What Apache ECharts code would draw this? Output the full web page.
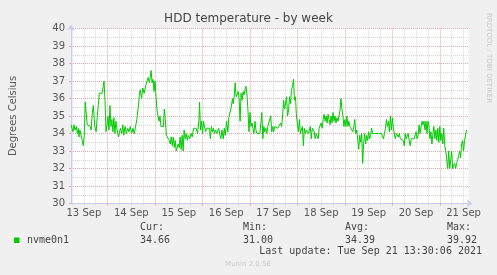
<!DOCTYPE html>
<html><head><meta charset="utf-8">
<script src="https://cdn.jsdelivr.net/npm/echarts@6/dist/echarts.min.js"></script>
<style>html,body{margin:0;padding:0;background:#f0f0f0}#c{width:497px;height:275px}</style>
</head><body><div id="c"></div>
<script>
const chartTitle = 'HDD temperature - by week';
const yName = 'Degrees Celsius';
const seriesName = 'nvme0n1';
const dayLabels = ['13 Sep','14 Sep','15 Sep','16 Sep','17 Sep','18 Sep','19 Sep','20 Sep','21 Sep'];
const yTicks = [30,31,32,33,34,35,36,37,38,39,40];
const statNames = ['Cur:','Min:','Avg:','Max:'];
const statValues = ['34.66','31.00','34.39','39.92'];
const lastUpdate = 'Last update: Tue Sep 21 13:30:06 2021';
const footer = 'Munin 2.0.56';
const sideText = 'RRDTOOL / TOBI OETIKER';
// hours since 13 Sep 00:00
const hours = [5.5,6.5,7.0,7.5,8.2,8.7,9.2,9.5,10.0,10.5,11.2,11.7,12.2,12.7,13.2,13.7,14.5,15.2,15.7,16.2,16.8,17.5,18.2,18.8,19.3,19.8,20.5,21.2,21.8,22.2,22.7,23.2,23.7,24.2,24.7,25.2,25.7,26.2,26.7,27.2,27.7,28.2,28.8,29.5,30.0,30.5,31.2,31.7,32.2,32.8,33.5,34.2,34.8,35.5,36.2,36.8,37.5,38.2,38.8,39.5,40.0,40.5,41.2,41.8,42.5,43.2,43.8,44.5,45.2,
46.0,46.5,47.0,47.5,48.0,48.5,49.0,49.5,50.0,50.5,51.0,51.5,52.2,52.7,53.2,53.7,54.2,54.7,55.2,55.7,56.2,56.7,57.2,57.7,58.2,58.7,59.2,59.7,60.2,60.7,61.2,61.7,62.2,62.7,63.2,63.8,64.3,64.8,65.5,66.2,66.8,67.5,68.2,68.8,69.5,70.2,70.5,71.0,71.5,72.0,72.5,73.0,73.5,74.2,74.8,75.5,76.0,76.5,77.0,77.5,78.0,78.5,79.2,79.7,80.2,80.8,81.3,81.8,82.5,83.0,83.5,84.2,84.8,85.3,85.8,86.5,87.2,
87.5,88.0,88.5,89.0,89.5,90.0,90.5,91.0,91.5,92.0,92.5,93.0,93.5,94.0,94.5,95.0,95.5,96.0,96.5,97.0,97.5,98.0,98.5,99.0,99.5,100.0,100.5,101.0,101.5,102.0,102.5,103.0,103.5,104.0,104.5,105.0,105.5,106.0,106.5,107.0,107.5,108.0,108.5,109.0,109.5,110.0,110.5,111.0,111.5,112.0,112.5,113.0,113.5,114.0,114.5,115.0,115.5,116.0,116.5,117.0,117.5,118.0,118.5,119.0,119.5,120.0,120.5,121.0,121.5,122.0,122.5,123.0,123.5,124.0,124.5,125.0,125.5,126.0,126.5,127.0,127.5,128.2,
128.5,129.0,129.5,130.0,130.5,131.0,131.5,132.0,132.5,133.0,133.5,134.0,134.5,135.0,135.5,136.0,136.5,137.0,137.5,138.0,138.5,139.0,139.5,140.0,140.5,141.0,141.5,142.0,142.5,143.0,143.5,144.0,144.5,145.0,145.5,146.0,146.5,147.0,147.5,148.0,148.5,149.0,149.5,150.0,150.5,151.0,151.5,152.0,152.5,153.0,153.5,154.0,154.5,155.0,155.5,156.0,156.5,157.0,157.5,158.0,158.5,159.0,159.5,160.0,160.5,161.0,161.5,162.0,162.5,163.0,163.5,164.0,164.5,165.0,165.5,166.0,166.5,167.0,167.5,168.0,168.5,169.2,
169.5,170.0,170.5,171.0,171.5,172.0,172.5,173.0,173.5,174.0,174.5,175.0,175.5,176.0,176.5,177.0,177.5,178.0,178.5,179.0,179.5,180.0,180.5,181.0,181.5,182.0,182.5,183.0,183.5,184.0,184.5,185.0,185.5,186.0,186.5,187.0,187.5,188.0,188.5,189.0,189.5,190.0,190.5,191.0,191.5,192.0,192.5,193.0,193.5,194.0,194.5,195.0,195.5,196.0,196.5,197.0,197.5,198.0,198.5,199.0,199.5,200.0,200.5,201.0,201.5,202.0,202.5,203.0,203.5,204.0,204.5,205.0,205.5];
const temps = [34.5,34.1,34.5,34.2,34.4,34.0,34.3,33.8,34.2,34.3,33.6,33.3,33.9,35.8,35.7,34.5,34.4,34.4,34.2,35.1,35.6,34.4,34.1,35.0,35.6,36.3,36.3,36.3,36.7,37.0,35.9,34.1,34.5,35.0,34.2,35.6,34.4,34.8,34.1,34.9,34.0,34.7,34.2,33.8,33.7,34.3,34.0,34.5,33.9,34.4,34.0,34.3,34.1,34.4,34.0,34.3,34.0,34.0,34.8,35.5,36.1,36.5,36.0,36.6,36.3,36.7,36.8,37.2,36.9,
37.6,36.9,37.1,36.4,37.0,36.1,35.3,35.4,34.7,35.0,34.4,34.4,34.4,35.4,34.8,33.9,33.8,34.0,33.6,33.4,33.8,33.3,33.8,33.2,33.6,33.0,32.9,33.4,33.2,33.8,33.1,33.9,33.0,34.2,33.7,34.0,33.6,33.9,33.7,34.0,33.8,34.3,34.2,34.3,34.0,34.8,35.8,34.2,34.7,34.0,34.7,34.6,34.1,34.3,34.4,34.3,33.7,34.4,34.1,34.3,34.0,34.2,34.0,34.1,34.3,33.9,33.7,34.2,33.7,34.3,33.9,34.7,34.1,34.9,34.8,35.5,36.0,
35.7,36.1,36.9,36.1,36.2,36.4,36.0,34.7,36.3,35.9,36.4,36.2,36.5,36.7,36.2,35.3,34.1,35.2,34.4,34.6,34.3,34.0,34.7,34.2,34.0,34.0,34.0,34.0,34.1,35.2,33.7,34.4,34.1,34.3,34.0,34.4,34.5,34.4,35.0,34.1,34.4,34.1,34.4,34.3,34.3,34.3,34.3,34.3,34.6,34.4,35.0,35.9,35.4,35.3,36.1,35.0,35.3,36.1,35.7,36.5,36.7,37.1,35.9,36.1,35.0,35.0,34.1,34.8,34.0,34.0,34.4,33.3,34.3,34.0,34.2,34.1,34.0,34.0,34.4,33.7,34.3,34.2,
34.1,33.7,34.0,34.0,33.7,34.3,34.2,34.6,34.3,34.8,35.1,34.7,35.0,34.6,35.1,35.0,34.5,35.0,34.6,35.2,34.7,35.0,34.6,34.9,34.7,35.0,35.3,36.0,35.4,35.0,34.4,34.8,34.4,35.0,34.4,34.7,34.4,34.4,34.4,34.1,34.4,34.8,34.0,34.2,33.6,33.1,33.9,33.5,34.0,32.3,33.5,34.0,33.4,33.9,33.6,34.1,33.7,33.9,34.3,34.0,34.0,34.0,34.0,34.0,34.0,34.0,34.0,34.0,34.0,34.0,33.7,34.0,34.3,34.8,34.4,34.7,34.1,35.0,34.2,34.9,34.3,34.4,
33.7,34.0,34.0,33.8,34.0,33.7,33.8,33.6,33.6,33.3,34.0,33.7,33.8,34.0,33.6,33.3,33.7,33.8,33.7,33.7,33.6,34.1,33.7,33.9,34.5,34.0,34.1,34.7,34.5,34.7,34.2,34.7,34.0,34.7,34.4,33.7,34.1,33.4,34.0,34.4,33.7,34.2,33.6,34.3,33.5,34.4,33.6,34.0,33.4,34.3,33.3,33.0,32.5,32.0,33.0,32.0,32.5,33.0,32.0,32.1,32.3,32.0,32.3,32.5,32.7,33.0,32.6,33.4,33.6,33.0,33.6,33.6,34.2];

const xMin = 5.5, xMax = 206.5;
const minorX = [], majorX = [], labelX = [];
for (let h = 6; h <= xMax; h += 6) { if (h % 24 === 0) majorX.push(h); else minorX.push(h); }
dayLabels.forEach((d, i) => labelX.push(12 + 24 * i));

const axisCol = '#C9CCF2';
const majorCol = '#EBA5A5';
const minorCol = '#D6D6D6';
const txtCol = '#555';
const chart = echarts.init(document.getElementById('c'), null, {renderer: 'canvas'});
const legendFont = '"DejaVu Sans Mono", monospace';
const gfx = [
  {type:'text', left:'center', top:13, style:{text: chartTitle, font:'12px "DejaVu Sans"', fill:'#444'}},
  {type:'text', x:488.5, y:58, rotation:-Math.PI/2, style:{text: sideText, font:'7px "DejaVu Sans"', fill:'#c8c8c8', align:'center', verticalAlign:'middle'}},
  {type:'rect', shape:{x:14, y:237.5, width:5.5, height:5.5}, style:{fill:'#00CC00'}},
  {type:'text', x:27, y:240.5, style:{text: seriesName, font:'10px ' + legendFont, fill:'#444', verticalAlign:'middle'}},
  {type:'text', x:482, y:251.5, style:{text: lastUpdate, font:'10px ' + legendFont, fill:'#444', align:'right', verticalAlign:'middle'}},
  {type:'text', x:248, y:264, style:{text: footer, font:'7px "DejaVu Sans"', fill:'#c8c8c8', align:'center', verticalAlign:'middle'}}
];
const statX = [140, 243, 345, 447];
statNames.forEach((n, i) => {
  gfx.push({type:'text', x:statX[i], y:227.5, style:{text:n, font:'10px ' + legendFont, fill:'#444', verticalAlign:'middle'}});
  gfx.push({type:'text', x:statX[i], y:240.5, style:{text:statValues[i], font:'10px ' + legendFont, fill:'#444', verticalAlign:'middle'}});
});

chart.setOption({
  animation: false,
  backgroundColor: '#f0f0f0',
  grid: {left:66.5, top:28.5, width:402, height:175, show:true, backgroundColor:'#fff', borderWidth:0},
  xAxis: [
    {type:'value', min:xMin, max:xMax,
     axisLine:{show:true, lineStyle:{color:axisCol}, symbol:['none','arrow'], symbolSize:[6,6], symbolOffset:[0,4]},
     axisTick:{show:true, customValues:minorX, length:2, lineStyle:{color:minorCol}},
     splitLine:{show:true, lineStyle:{color:minorCol, type:[1,1]}},
     axisLabel:{show:true, customValues:labelX, margin:5, fontSize:10, color:txtCol, fontFamily:'DejaVu Sans',
       formatter: v => dayLabels[Math.round((v - 12) / 24)] || ''}
    },
    {type:'value', min:xMin, max:xMax, position:'bottom',
     axisLine:{show:false},
     axisTick:{show:true, customValues:majorX, length:2, lineStyle:{color:majorCol}},
     splitLine:{show:true, lineStyle:{color:majorCol, type:[1,1]}},
     axisLabel:{show:false}
    }
  ],
  yAxis: {type:'value', min:30, max:40, interval:1,
    name: yName, nameLocation:'middle', nameGap:53, nameRotate:90,
    nameTextStyle:{fontSize:10, color:txtCol, fontFamily:'DejaVu Sans'},
    axisLine:{show:true, lineStyle:{color:axisCol}, symbol:['none','arrow'], symbolSize:[6,6], symbolOffset:[0,4]},
    axisTick:{show:true, length:2, lineStyle:{color:majorCol}},
    splitLine:{show:true, lineStyle:{color:majorCol, type:[1,1]}},
    minorTick:{show:false, splitNumber:2},
    minorSplitLine:{show:true, lineStyle:{color:minorCol, type:[1,1]}},
    axisLabel:{margin:6, fontSize:10, color:txtCol, fontFamily:'DejaVu Sans',
      formatter: v => yTicks.indexOf(v) >= 0 ? String(v) : ''}
  },
  series: [{
    type:'line', name: seriesName, xAxisIndex:0,
    data: hours.map((h, i) => [h, temps[i]]),
    showSymbol:false, symbol:'none',
    lineStyle:{color:'#00CC00', width:1}, itemStyle:{color:'#00CC00'},
    z:5
  }],
  graphic: gfx
});
</script>
</body></html>
